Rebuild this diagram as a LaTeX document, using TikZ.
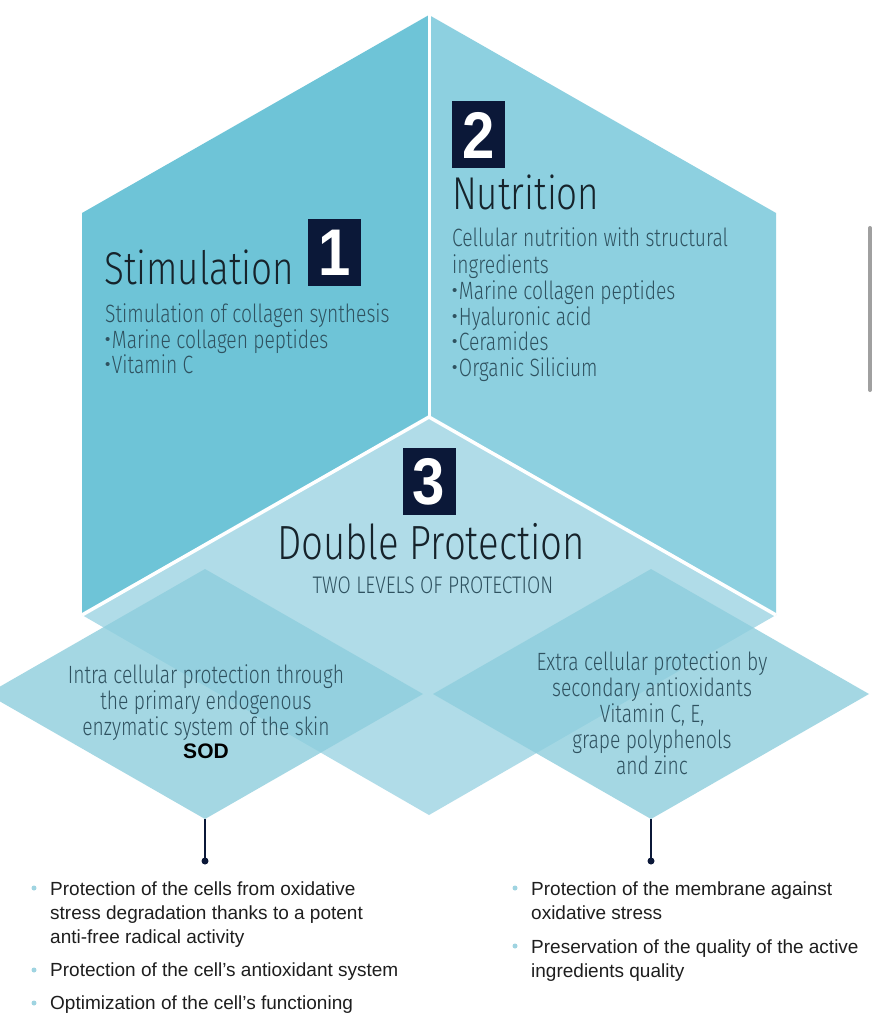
\documentclass[tikz,border=0pt]{standalone}
\usepackage{fontspec}
\setmainfont{Liberation Sans}
\newfontfamily\thin{Fira Sans Light}[FakeStretch=0.8]
\newfontfamily\thinb{Fira Sans Light}[FakeStretch=0.77]
\newfontfamily\digitfont{Liberation Sans}[FakeStretch=0.88]
\definecolor{panelA}{HTML}{6EC4D7}
\definecolor{panelB}{HTML}{8DD0E0}
\definecolor{midc}{HTML}{B0DCE8}
\definecolor{smallc}{HTML}{8ECEDD}
\definecolor{navy}{HTML}{0B1838}
\definecolor{titlecol}{HTML}{16232B}
\definecolor{bodycol}{HTML}{2F5260}
\definecolor{textcol}{HTML}{1E1E1E}
\definecolor{dotcol}{HTML}{9FD4E1}
\definecolor{scrollc}{HTML}{A0A0A0}
\tikzset{
  numbox/.style={fill=navy, text=white, minimum width=53, minimum height=67, inner sep=0,
    font=\digitfont\bfseries\fontsize{66}{66}\selectfont},
  bigtitle/.style={font=\thin\fontsize{46}{46}\selectfont, text=titlecol, inner sep=0},
  bodytext/.style={font=\thinb\fontsize{25}{26}\selectfont, text=bodycol, inner sep=0},
  subtitle/.style={font=\thin\fontsize{24}{24}\selectfont, text=bodycol, inner sep=0},
  listtext/.style={font=\fontsize{19}{24}\selectfont, text=textcol, inner sep=0, anchor=base west},
  listdot/.style={fill=dotcol, draw=none, circle, minimum size=5, inner sep=0},
  connector/.style={draw=navy, line width=1.6},
  enddot/.style={fill=navy, circle, minimum size=7, inner sep=0},
}
\newcommand{\bul}{\raisebox{3.5pt}{\normalfont\fontsize{15}{15}\selectfont •}\hspace{1.5pt}}
\begin{document}
\begin{tikzpicture}[x=1pt,y=-1pt]
\useasboundingbox (0,0) rectangle (879,1024);
\fill[white] (0,0) rectangle (879,1024);
% panels
\fill[panelA] (82,213) -- (429,15) -- (429,420) -- (82,615) -- cycle;
\fill[panelB] (429,15) -- (776,213) -- (776,615) -- (429,420) -- cycle;
\draw[white, line width=3] (429,14) -- (429,418);
% middle diamond
\fill[midc] (429,417) -- (776,615) -- (429,815) -- (82,615) -- cycle;
\draw[white, line width=3.5] (82,615) -- (429,417) -- (776,615);
% small diamonds
\fill[smallc, opacity=0.8] (205,569) -- (423,694) -- (205,819) -- (-13,694) -- cycle;
\fill[smallc, opacity=0.8] (651,569) -- (869,694) -- (651,819) -- (433,694) -- cycle;
% scrollbar
\draw[scrollc, line width=4, line cap=round] (870,228) -- (870,390);

% number boxes
\node[numbox] (n1) at (334.5,252.5) {1};
\node[numbox] (n2) at (478.5,135) {2};
\node[numbox] (n3) at (429,481.5) {3};

% Stimulation
\node[bigtitle, anchor=base west] (t1) at (104,284) {Stimulation};
\node[bodytext, anchor=base west] (s1) at (105,322) {Stimulation of collagen synthesis};
\node[bodytext, anchor=base west] (s2) at (105,348) {\bul Marine collagen peptides};
\node[bodytext, anchor=base west] (s3) at (105,373) {\bul Vitamin C};

% Nutrition
\node[bigtitle, anchor=base west] (t2) at (452,210) {Nutrition};
\node[bodytext, anchor=base west] (u1) at (452,247) {Cellular nutrition with structural};
\node[bodytext, anchor=base west] (u2) at (452,273) {ingredients};
\node[bodytext, anchor=base west] (u3) at (452,299) {\bul Marine collagen peptides};
\node[bodytext, anchor=base west] (u4) at (452,325) {\bul Hyaluronic acid};
\node[bodytext, anchor=base west] (u5) at (452,350) {\bul Ceramides};
\node[bodytext, anchor=base west] (u6) at (452,376) {\bul Organic Silicium};

% Double protection
\node[bigtitle, anchor=base, font=\thin\fontsize{48}{48}\selectfont] (t3) at (431,559) {Double Protection};
\node[subtitle, anchor=base] (st3) at (433,593) {TWO LEVELS OF PROTECTION};

% left diamond text
\node[bodytext, anchor=base] (a1) at (206,683) {Intra cellular protection through};
\node[bodytext, anchor=base] (a2) at (206,709) {the primary endogenous};
\node[bodytext, anchor=base] (a3) at (206,735) {enzymatic system of the skin};
\node[font=\bfseries\fontsize{21}{21}\selectfont, text=black, inner sep=0, anchor=base] (a4) at (206,758) {SOD};

% right diamond text
\node[bodytext, anchor=base] (b1) at (652,670) {Extra cellular protection by};
\node[bodytext, anchor=base] (b2) at (652,696) {secondary antioxidants};
\node[bodytext, anchor=base] (b3) at (652,722) {Vitamin C, E,};
\node[bodytext, anchor=base] (b4) at (652,748) {grape polyphenols};
\node[bodytext, anchor=base] (b5) at (652,774) {and zinc};

% connectors
\coordinate (ltop) at (205,819);
\coordinate (rtop) at (651,819);
\node[enddot] (lend) at (205,861) {};
\node[enddot] (rend) at (651,861) {};
\draw[connector] (ltop) -- (lend.center);
\draw[connector] (rtop) -- (rend.center);

% left list
\node[listdot] (ld1) at (34,888) {};
\node[listdot] (ld2) at (34,970) {};
\node[listdot] (ld3) at (34,1003) {};
\node[listtext] (l1) at (50,895) {Protection of the cells from oxidative};
\node[listtext] (l2) at (50,919) {stress degradation thanks to a potent};
\node[listtext] (l3) at (50,943) {anti-free radical activity};
\node[listtext] (l4) at (50,976) {Protection of the cell’s antioxidant system};
\node[listtext] (l5) at (50,1009) {Optimization of the cell’s functioning};

% right list
\node[listdot] (rd1) at (515,888) {};
\node[listdot] (rd2) at (515,946) {};
\node[listtext] (r1) at (531,895) {Protection of the membrane against};
\node[listtext] (r2) at (531,919) {oxidative stress};
\node[listtext] (r3) at (531,953) {Preservation of the quality of the active};
\node[listtext] (r4) at (531,977) {ingredients quality};
\end{tikzpicture}
\end{document}
